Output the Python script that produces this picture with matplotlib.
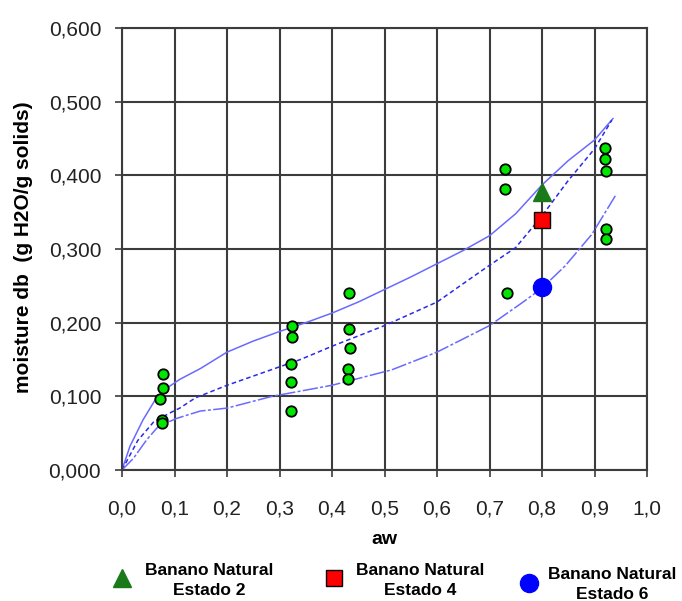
import matplotlib
matplotlib.use("Agg")
import matplotlib.pyplot as plt
from matplotlib.lines import Line2D
from matplotlib.ticker import FuncFormatter

# Experimental points (green circles)
obs_aw = [0.079, 0.079, 0.073, 0.077, 0.077,
          0.324, 0.324, 0.322, 0.322, 0.322,
          0.432, 0.432, 0.434, 0.430, 0.430,
          0.729, 0.729, 0.734,
          0.920, 0.920, 0.922, 0.922, 0.922]
obs_m = [0.130, 0.111, 0.097, 0.068, 0.064,
         0.195, 0.181, 0.144, 0.120, 0.080,
         0.240, 0.192, 0.166, 0.137, 0.123,
         0.409, 0.381, 0.240,
         0.437, 0.422, 0.406, 0.327, 0.313]

# Highlighted states
state_aw = [0.80, 0.80, 0.80]
state_m = [0.377, 0.339, 0.248]
state_labels = ["Banano Natural\nEstado 2", "Banano Natural\nEstado 4", "Banano Natural\nEstado 6"]

# Model curves
upper_aw = [0.0, 0.015, 0.04, 0.063, 0.085, 0.11, 0.15, 0.2, 0.25, 0.3, 0.35, 0.4, 0.45,
            0.5, 0.55, 0.6, 0.65, 0.7, 0.75, 0.8, 0.85, 0.9, 0.935]
upper_m = [0.0, 0.032, 0.068, 0.095, 0.111, 0.123, 0.138, 0.160, 0.175, 0.188, 0.200, 0.213,
           0.228, 0.245, 0.262, 0.280, 0.298, 0.318, 0.348, 0.387, 0.420, 0.448, 0.477]
mid_aw = [0.0, 0.03, 0.06, 0.09, 0.11, 0.14, 0.2, 0.3, 0.34, 0.4, 0.5, 0.6, 0.69, 0.75,
          0.8, 0.85, 0.9, 0.933]
mid_m = [0.0, 0.040, 0.065, 0.077, 0.084, 0.098, 0.115, 0.140, 0.150, 0.168, 0.196, 0.228,
         0.273, 0.302, 0.345, 0.393, 0.436, 0.475]
low_aw = [0.0, 0.022, 0.047, 0.069, 0.104, 0.149, 0.2, 0.286, 0.4, 0.514, 0.6, 0.7, 0.766,
          0.8, 0.844, 0.895, 0.942]
low_m = [0.0, 0.016, 0.041, 0.059, 0.070, 0.080, 0.084, 0.100, 0.115, 0.136, 0.160, 0.196,
         0.229, 0.247, 0.277, 0.320, 0.375]

plt.rcParams['font.family'] = ['Liberation Sans', 'DejaVu Sans']

fig = plt.figure(figsize=(6.82, 6.01), dpi=100)
ax = fig.add_axes([0.1789, 0.218, 0.7698, 0.7354])

ax.plot(upper_aw, upper_m, color='#6a6aff', lw=1.1, zorder=2)
ax.plot(mid_aw, mid_m, color='#2a2ae8', lw=1.1, dashes=(3, 2), zorder=2)
ax.plot(low_aw, low_m, color='#6a6aff', lw=1.1, dashes=(10, 1.5, 2, 1.5), zorder=2)

ax.plot(obs_aw, obs_m, 'o', ms=7.5, mfc='#00e600', mec='black', mew=1.3, ls='none', zorder=3)

markers = ['^', 's', 'o']
mcolors = ['#1a7a1a', '#ff0000', '#0000ff']
handles = []
for a, m, mk, c in zip(state_aw, state_m, markers, mcolors):
    ms = 13 if mk != 's' else 12
    ec = 'black' if mk == 's' else c
    ax.plot([a], [m], mk, ms=ms, mfc=c, mec=ec, mew=1.0, ls='none', zorder=4)
    handles.append(Line2D([], [], marker=mk, ls='none', ms=ms, mfc=c, mec=ec, mew=1.0))

ax.set_xlim(0, 1.0)
ax.set_ylim(0, 0.6)
ax.set_xticks([i / 10 for i in range(11)])
ax.set_yticks([i / 10 for i in range(7)])
ax.xaxis.set_major_formatter(FuncFormatter(lambda v, p: f"{v:.1f}".replace('.', ',')))
ax.yaxis.set_major_formatter(FuncFormatter(lambda v, p: f"{v:.3f}".replace('.', ',')))
ax.grid(True, color='#3c3c3c', lw=1.5)
ax.set_axisbelow(True)
for s in ax.spines.values():
    s.set_color('#3c3c3c')
    s.set_linewidth(1.5)
ax.tick_params(axis='both', labelsize=15, length=5, width=1.2, color='#3c3c3c', labelcolor='#222222')
ax.tick_params(axis='y', pad=10)
ax.tick_params(axis='x', pad=16)

ax.set_xlabel('aw', fontsize=14, fontweight='bold')
ax.xaxis.set_label_coords(0.5, -0.138)
ax.set_ylabel('moisture db  (g H2O/g solids)', fontsize=15, fontweight='bold')
ax.yaxis.set_label_coords(-0.17, 0.505)

# legend entries below the plot
leg_x = [113.0 / 682, 325.0 / 682, 520.0 / 682]
leg_y = [0.034, 0.034, 0.027]
leg_pad = [0.82, 0.76, 0.62]
leg_hh = [1.8, 1.8, 1.2]
for h, lab, lx, ly, lp, hh in zip(handles, state_labels, leg_x, leg_y, leg_pad, leg_hh):
    lg = fig.legend([h], [lab], loc='center left', bbox_to_anchor=(lx, ly),
                    frameon=False, borderpad=0, borderaxespad=0, handlelength=1.0,
                    handleheight=hh, handletextpad=lp,
                    prop={'weight': 'bold', 'size': 12.5})
    for t in lg.get_texts():
        t.set_multialignment('center')
        t.set_linespacing(1.4)

fig.savefig('out.png', dpi=100)
